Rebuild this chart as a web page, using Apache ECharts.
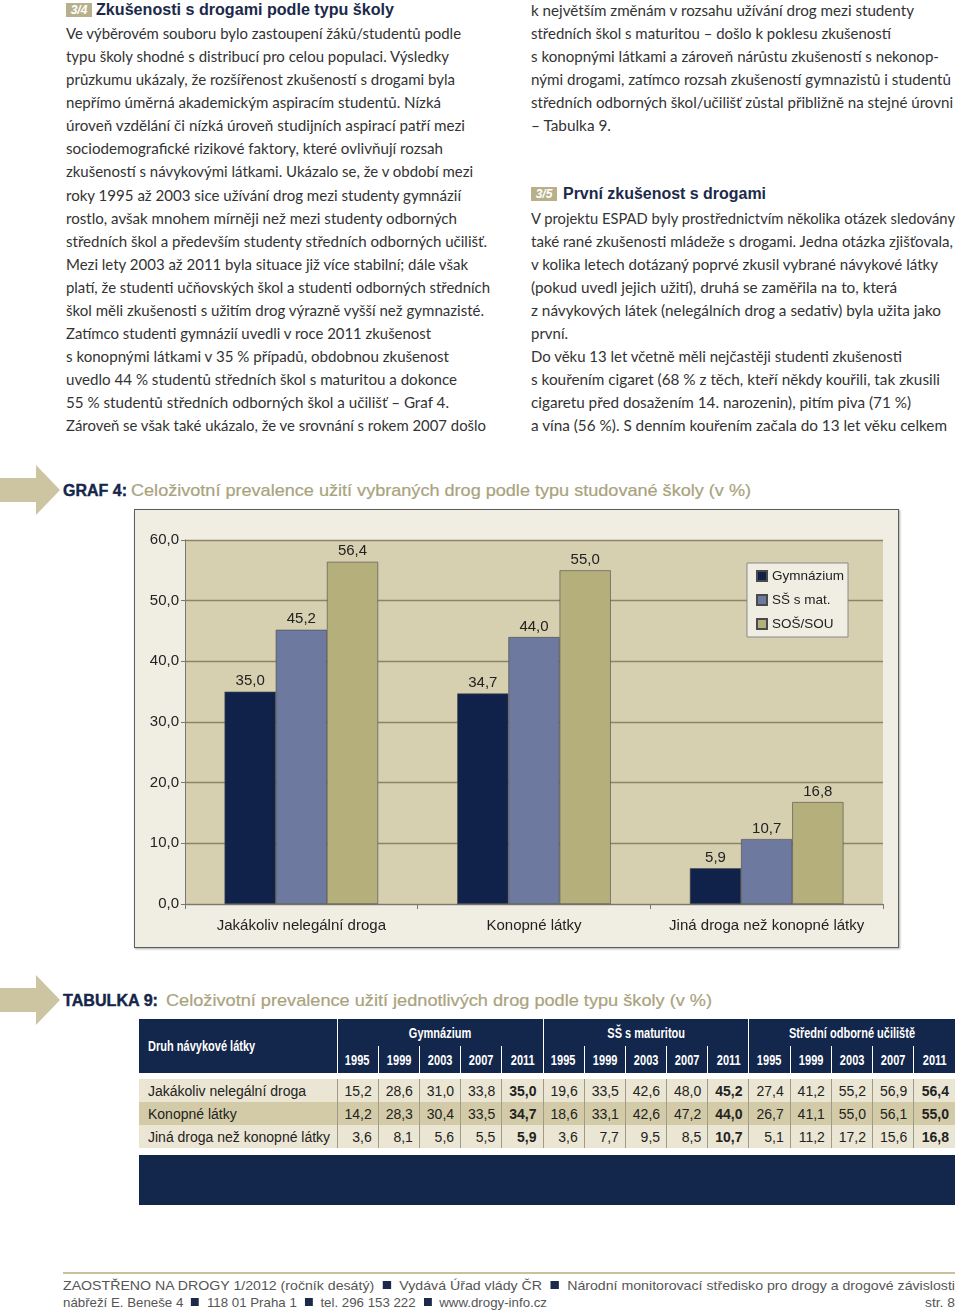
<!DOCTYPE html>
<html><head><meta charset="utf-8">
<script src="https://cdn.jsdelivr.net/npm/echarts@6.0.0/dist/echarts.min.js"></script>
<style>
html,body{margin:0;padding:0;background:#fff;}
#page{position:relative;width:960px;height:1315px;overflow:hidden;font-family:Lato,'Open Sans',sans-serif;color:#333;}
.ln{position:absolute;white-space:nowrap;transform-origin:0 50%;line-height:20px;height:20px;}
.badge{position:absolute;width:26px;height:14px;background:#b7b08a;color:#fff;font:italic bold 12px 'Liberation Sans',Arial,sans-serif;line-height:14px;text-align:center;}
#frame{position:absolute;left:134px;top:509px;width:763px;height:437px;border:1.5px solid #5c5c5c;box-shadow:1px 1px 2px #aaa;}
#chart{width:763px;height:437px;}
#tbl{position:absolute;left:139px;top:1019px;width:816px;border-collapse:collapse;table-layout:fixed;font-family:'Liberation Sans',Arial,sans-serif;}
#tbl th{background:#13264b;color:#fff;font-family:'Liberation Sans',Arial,sans-serif;font-weight:bold;font-size:14.5px;padding:0;white-space:nowrap;overflow:hidden;}
#tbl th span{display:inline-block;transform:scaleX(0.76);}
#tbl th.l span{transform-origin:0 50%;}
#tbl td{font-size:14px;color:#222;padding:0 6px 0 0;text-align:right;height:23px;border-left:1px solid #a09b88;white-space:nowrap;}
#tbl td.first{text-align:left;padding:0 0 0 9px;border-left:none;}
#tbl tr.light td{background:#ebe6d3;}
#tbl tr.dark td{background:#d3cba8;}
#tbl td.b{font-weight:bold;}
.sq{display:inline-block;width:8px;height:8px;background:#1b2a4a;margin:0 8px;vertical-align:1px;}
</style></head>
<body><div id="page">
<svg width="960" height="1315" style="position:absolute;left:0;top:0" id="deco">
  <polygon points="0,478 36,478 36,465 60,490 36,515 36,502 0,502" fill="#cdc5a1"/>
  <polygon points="0,988 36,988 36,975 60,1000 36,1025 36,1012 0,1012" fill="#cdc5a1"/>
  <rect x="63" y="1272" width="892" height="2" fill="#c9c19d"/>
</svg>
<div id="frame"><div id="chart"></div></div>
<table id="tbl"></table>
</div>
<script>
// ---------- chart data ----------
const categories = ['Jakákoliv nelegální droga', 'Konopné látky', 'Jiná droga než konopné látky'];
const seriesNames = ['Gymnázium', 'SŠ s mat.', 'SOŠ/SOU'];
const gymnazium = [35.0, 34.7, 5.9];
const ssMat = [45.2, 44.0, 10.7];
const sosSou = [56.4, 55.0, 16.8];
const seriesColors = ['#10224a', '#6d799f', '#b4af7b'];

// ---------- table data ----------
const tableYears = ['1995', '1999', '2003', '2007', '2011'];
const tableGroups = ['Gymnázium', 'SŠ s maturitou', 'Střední odborné učiliště'];
const tableRows = ['Jakákoliv nelegální droga', 'Konopné látky', 'Jiná droga než konopné látky'];
const tabGym = [[15.2, 28.6, 31.0, 33.8, 35.0], [14.2, 28.3, 30.4, 33.5, 34.7], [3.6, 8.1, 5.6, 5.5, 5.9]];
const tabSS = [[19.6, 33.5, 42.6, 48.0, 45.2], [18.6, 33.1, 42.6, 47.2, 44.0], [3.6, 7.7, 9.5, 8.5, 10.7]];
const tabSOU = [[27.4, 41.2, 55.2, 56.9, 56.4], [26.7, 41.1, 55.0, 56.1, 55.0], [5.1, 11.2, 17.2, 15.6, 16.8]];

// ---------- text ----------
const leftLines = [
 'Ve výběrovém souboru bylo zastoupení žáků/studentů podle',
 'typu školy shodné s distribucí pro celou populaci. Výsledky',
 'průzkumu ukázaly, že rozšířenost zkušeností s drogami byla',
 'nepřímo úměrná akademickým aspiracím studentů. Nízká',
 'úroveň vzdělání či nízká úroveň studijních aspirací patří mezi',
 'sociodemografické rizikové faktory, které ovlivňují rozsah',
 'zkušeností s návykovými látkami. Ukázalo se, že v období mezi',
 'roky 1995 až 2003 sice užívání drog mezi studenty gymnázií',
 'rostlo, avšak mnohem mírněji než mezi studenty odborných',
 'středních škol a především studenty středních odborných učilišť.',
 'Mezi lety 2003 až 2011 byla situace již více stabilní; dále však',
 'platí, že studenti učňovských škol a studenti odborných středních',
 'škol měli zkušenosti s užitím drog výrazně vyšší než gymnazisté.',
 'Zatímco studenti gymnázií uvedli v roce 2011 zkušenost',
 's konopnými látkami v 35 % případů, obdobnou zkušenost',
 'uvedlo 44 % studentů středních škol s maturitou a dokonce',
 '55 % studentů středních odborných škol a učilišť – Graf 4.',
 'Zároveň se však také ukázalo, že ve srovnání s rokem 2007 došlo'
];
const leftEnds = [461,449,455,441,465,443,473,461,457,487,468,490,484,431,449,457,449,486];
const rightTop = [
 'k největším změnám v rozsahu užívání drog mezi studenty',
 'středních škol s maturitou – došlo k poklesu zkušeností',
 's konopnými látkami a zároveň nárůstu zkušeností s nekonop-',
 'nými drogami, zatímco rozsah zkušeností gymnazistů i studentů',
 'středních odborných škol/učilišť zůstal přibližně na stejné úrovni',
 '– Tabulka 9.'
];
const rightTopEnds = [914,891,939,951,953,611];
const rightBottom = [
 'V projektu ESPAD byly prostřednictvím několika otázek sledovány',
 'také rané zkušenosti mládeže s drogami. Jedna otázka zjišťovala,',
 'v kolika letech dotázaný poprvé zkusil vybrané návykové látky',
 '(pokud uvedl jejich užití), druhá se zaměřila na to, která',
 'z návykových látek (nelegálních drog a sedativ) byla užita jako',
 'první.',
 'Do věku 13 let včetně měli nejčastěji studenti zkušenosti',
 's kouřením cigaret (68 % z těch, kteří někdy kouřili, tak zkusili',
 'cigaretu před dosažením 14. narozenin), pitím piva (71 %)',
 'a vína (56 %). S denním kouřením začala do 13 let věku celkem'
];
const rightBottomEnds = [955,953,938,897,941,568,902,940,911,947];

const page = document.getElementById('page');
function txt(html, x, y, w, style) {
  const d = document.createElement('div');
  d.className = 'ln';
  d.innerHTML = html;
  d.style.left = x + 'px';
  d.style.top = (y - 10) + 'px';
  Object.assign(d.style, style || {});
  page.appendChild(d);
  if (w) {
    const cw = d.getBoundingClientRect().width;
    d.style.transform = 'scaleX(' + (w / cw) + ')';
  }
  return d;
}
const bodyStyle = {fontSize: '15px', color: '#333'};
const step = 23.07;
leftLines.forEach((t, i) => txt(t, 66, 10 + step * (i + 1), leftEnds[i] - 66, bodyStyle));
rightTop.forEach((t, i) => txt(t, 531, 10 + step * i, rightTopEnds[i] - 531, bodyStyle));
rightBottom.forEach((t, i) => txt(t, 531, 10 + step * (i + 9), rightBottomEnds[i] - 531, bodyStyle));

function badge(t, x, y) {
  const b = document.createElement('div');
  b.className = 'badge'; b.textContent = t;
  b.style.left = x + 'px'; b.style.top = y + 'px';
  page.appendChild(b);
}
const headStyle = {fontFamily: "'Liberation Sans',Arial,sans-serif", fontWeight: 'bold', fontSize: '16px', color: '#1b2a4a'};
badge('3/4', 66, 3);
txt('Zkušenosti s drogami podle typu školy', 96, 10, 298, headStyle);
badge('3/5', 531, 187);
txt('První zkušenost s drogami', 563, 194, 203, headStyle);

const capStyle = {fontFamily: "'Liberation Sans',Arial,sans-serif", fontWeight: '900', fontSize: '16px', color: '#14264a', WebkitTextStroke: '0.4px #14264a'};
const capRest = {fontFamily: "'Liberation Sans',Arial,sans-serif", fontSize: '17px', color: '#a9a37d', WebkitTextStroke: '0.2px #a9a37d'};
txt('GRAF 4:', 63, 491, 64, capStyle);
txt('Celoživotní prevalence užití vybraných drog podle typu studované školy (v %)', 131, 491, 620, capRest);
txt('TABULKA 9:', 63, 1001, 95, capStyle);
txt('Celoživotní prevalence užití jednotlivých drog podle typu školy (v %)', 166, 1001, 546, capRest);

const footStyle = {fontFamily: "'Liberation Sans',Arial,sans-serif", fontSize: '13.5px', color: '#555'};
const sq = '<span class="sq"></span>';
txt('ZAOSTŘENO NA DROGY 1/2012 (ročník desátý)' + sq + 'Vydává Úřad vlády ČR' + sq + 'Národní monitorovací středisko pro drogy a drogové závislosti', 63, 1286, 892, footStyle);
txt('nábřeží E. Beneše 4' + sq + '118 01 Praha 1' + sq + 'tel. 296 153 222' + sq + 'www.drogy-info.cz', 63, 1303, 484, footStyle);
txt('str. 8', 925, 1303, 30, footStyle);

// ---------- table ----------
const fmt = v => v.toFixed(1).replace('.', ',');
(function buildTable() {
  const groupsData = [tabGym, tabSS, tabSOU];
  let h = '<colgroup><col style="width:198px">';
  for (let i = 0; i < 15; i++) h += '<col style="width:41.2px">';
  h += '</colgroup>';
  h += '<tr style="height:27px"><th class="l" rowspan="2" style="text-align:left;padding-left:9px;"><span>Druh návykové látky</span></th>';
  tableGroups.forEach(g => h += '<th colspan="5" style="border-left:1px solid #fff;text-align:center"><span>' + g + '</span></th>');
  h += '</tr><tr style="height:27px">';
  tableGroups.forEach(() => tableYears.forEach(y => h += '<th style="border-left:1px solid #fff;text-align:center"><span>' + y + '</span></th>'));
  h += '</tr><tr style="height:6px"><td colspan="16" style="border:none;height:6px;padding:0"></td></tr>';
  tableRows.forEach((r, ri) => {
    h += '<tr class="' + (ri === 1 ? 'dark' : 'light') + '"><td class="first">' + r + '</td>';
    groupsData.forEach(gd => gd[ri].forEach((v, yi) => {
      h += '<td' + (yi === 4 ? ' class="b"' : '') + '>' + fmt(v) + '</td>';
    }));
    h += '</tr>';
  });
  h += '<tr><td colspan="16" style="border:none;height:7px;padding:0"></td></tr>';
  h += '<tr><td colspan="16" style="border:none;height:50px;padding:0;background:#13264b"></td></tr>';
  document.getElementById('tbl').innerHTML = h;
})();

// ---------- chart ----------
const chart = echarts.init(document.getElementById('chart'), null, {renderer: 'canvas'});
const dataSets = [gymnazium, ssMat, sosSou];
chart.setOption({
  animation: false,
  backgroundColor: '#f0ede2',
  textStyle: {fontFamily: "'Liberation Sans', Arial, sans-serif"},
  grid: {left: 50, right: 15, top: 30, bottom: 43, show: true, backgroundColor: '#d6cfb0', borderWidth: 0, outerBoundsMode: 'none', containLabel: false},
  legend: {
    orient: 'vertical', left: 612, top: 53, icon: 'rect', itemWidth: 10, itemHeight: 10, itemGap: 10,
    backgroundColor: '#f0ede2', borderColor: '#8a8a8a', borderWidth: 1, padding: [6, 4, 6, 9],
    textStyle: {fontSize: 13.5, color: '#222'}, data: seriesNames
  },
  xAxis: {
    type: 'category', data: categories,
    axisLine: {lineStyle: {color: '#777', width: 1}},
    axisTick: {show: true, length: 5, lineStyle: {color: '#777'}},
    axisLabel: {color: '#222', fontSize: 15, margin: 14, interval: 0, hideOverlap: false}
  },
  yAxis: {
    type: 'value', min: 0, max: 60, interval: 10,
    axisLine: {show: true, lineStyle: {color: '#777'}},
    axisTick: {show: true, length: 4, lineStyle: {color: '#777'}},
    axisLabel: {formatter: v => fmt(v), color: '#222', fontSize: 15, margin: 6},
    splitLine: {show: true, lineStyle: {color: '#8b8567', width: 1.3}}
  },
  series: dataSets.map((d, i) => ({
    type: 'bar', name: seriesNames[i], data: d,
    barGap: '0%', barCategoryGap: '34%',
    itemStyle: {color: seriesColors[i], borderColor: '#4a4a4a', borderWidth: 0.6},
    label: {show: true, position: 'top', distance: 3, formatter: p => fmt(p.value), fontSize: 15, color: '#222'}
  }))
});
</script>
</body></html>
